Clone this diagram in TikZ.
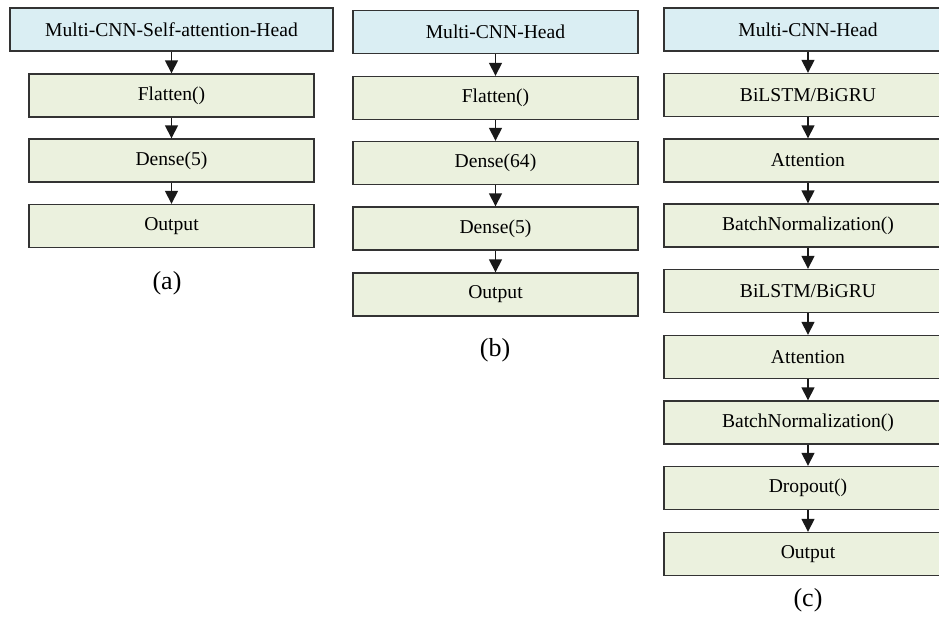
\documentclass[tikz,border=0pt]{standalone}
\usepackage{fontspec}
\setmainfont{Liberation Serif}
\usepackage{xcolor}
\usepackage{tikz}
\usetikzlibrary{arrows.meta}
\definecolor{headblue}{HTML}{DAEEF3}
\definecolor{layergreen}{HTML}{EBF1DE}

\begin{document}
\begin{tikzpicture}[x=0.5pt,y=-0.5pt,
head/.style={draw=black!80,line width=0.7pt,fill=headblue,inner sep=0pt,minimum height=21.5pt,font=\fontsize{9.8}{11}\selectfont},
layer/.style={draw=black!80,line width=0.7pt,fill=layergreen,inner sep=0pt,minimum height=21.5pt,minimum width=142.5pt,font=\fontsize{9.8}{11}\selectfont},
arr/.style={-{Triangle[length=6.5pt,width=6.5pt]},line width=0.75pt,black!90},
sub/.style={font=\fontsize{13}{15}\selectfont}]
\useasboundingbox(0,0)rectangle(939,618);
%(a)
\node[head,minimum width=161.5pt](headA)at(171.5,29.5){Multi-CNN-Self-attention-Head};
\node[layer](flatA)at(171.5,95.5){Flatten()};
\node[layer](denseA)at(171.5,160.5){Dense(5)};
\node[layer](outA)at(171.5,226){Output};
\node[sub](labA)at(167,283){(a)};
\draw[arr](headA)--(flatA);
\draw[arr](flatA)--(denseA);
\draw[arr](denseA)--(outA);
%(b)
\node[head,minimum width=142.5pt](headB)at(495.5,32){Multi-CNN-Head};
\node[layer](flatB)at(495.5,98){Flatten()};
\node[layer](denseB1)at(495.5,163){Dense(64)};
\node[layer](denseB2)at(495.5,228.5){Dense(5)};
\node[layer](outB)at(495.5,294.5){Output};
\node[sub](labB)at(495,350){(b)};
\draw[arr](headB)--(flatB);
\draw[arr](flatB)--(denseB1);
\draw[arr](denseB1)--(denseB2);
\draw[arr](denseB2)--(outB);
%(c)
\node[head,minimum width=144pt](headC)at(808,29.5){Multi-CNN-Head};
\node[layer,minimum width=144pt](rnnC1)at(808,95){BiLSTM/BiGRU};
\node[layer,minimum width=144pt](attC1)at(808,160.5){Attention};
\node[layer,minimum width=144pt](bnC1)at(808,225.5){BatchNormalization()};
\node[layer,minimum width=144pt](rnnC2)at(808,291){BiLSTM/BiGRU};
\node[layer,minimum width=144pt](attC2)at(808,357){Attention};
\node[layer,minimum width=144pt](bnC2)at(808,422.5){BatchNormalization()};
\node[layer,minimum width=144pt](dropC)at(808,488){Dropout()};
\node[layer,minimum width=144pt](outC)at(808,554){Output};
\node[sub](labC)at(808,600){(c)};
\draw[arr](headC)--(rnnC1);
\draw[arr](rnnC1)--(attC1);
\draw[arr](attC1)--(bnC1);
\draw[arr](bnC1)--(rnnC2);
\draw[arr](rnnC2)--(attC2);
\draw[arr](attC2)--(bnC2);
\draw[arr](bnC2)--(dropC);
\draw[arr](dropC)--(outC);
\end{tikzpicture}
\end{document}
